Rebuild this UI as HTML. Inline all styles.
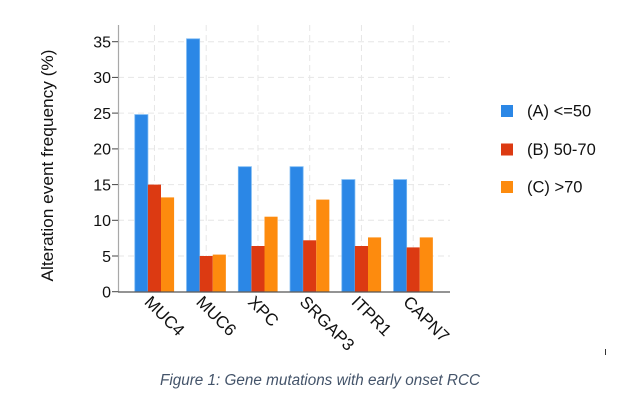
<!DOCTYPE html>
<html><head><meta charset="utf-8"><style>
html,body{margin:0;padding:0;background:#fff;}
svg{display:block;}
text{font-family:"Liberation Sans",Arial,sans-serif;fill:#111;}
</style></head><body>
<svg width="641" height="404" viewBox="0 0 641 404" xmlns="http://www.w3.org/2000/svg">
<rect width="641" height="404" fill="#fff"/>
<!-- grid -->
<g stroke="#e6e6e6" stroke-width="1" stroke-dasharray="6,4" fill="none">
<line x1="118" y1="256.0" x2="450" y2="256.0"/>
<line x1="118" y1="220.3" x2="450" y2="220.3"/>
<line x1="118" y1="184.6" x2="450" y2="184.6"/>
<line x1="118" y1="148.9" x2="450" y2="148.9"/>
<line x1="118" y1="113.1" x2="450" y2="113.1"/>
<line x1="118" y1="77.4" x2="450" y2="77.4"/>
<line x1="118" y1="41.7" x2="450" y2="41.7"/>
<line x1="154.45" y1="25" x2="154.45" y2="292"/>
<line x1="206.2" y1="25" x2="206.2" y2="292"/>
<line x1="257.95" y1="25" x2="257.95" y2="292"/>
<line x1="309.7" y1="25" x2="309.7" y2="292"/>
<line x1="361.45" y1="25" x2="361.45" y2="292"/>
<line x1="413.2" y1="25" x2="413.2" y2="292"/>
</g>
<!-- bars -->
<g>
<rect x="134.8" y="114.6" width="13.1" height="177.1" fill="#2b87e6" stroke="#74b6f2" stroke-width="0.8"/>
<rect x="147.9" y="184.6" width="13.1" height="107.1" fill="#dc3a12"/>
<rect x="161.0" y="197.4" width="13.1" height="94.3" fill="#fd8b0e"/>

<rect x="186.55" y="38.8" width="13.1" height="252.9" fill="#2b87e6" stroke="#74b6f2" stroke-width="0.8"/>
<rect x="199.65" y="256.0" width="13.1" height="35.7" fill="#dc3a12"/>
<rect x="212.75" y="254.6" width="13.1" height="37.1" fill="#fd8b0e"/>

<rect x="238.3" y="166.7" width="13.1" height="125.0" fill="#2b87e6" stroke="#74b6f2" stroke-width="0.8"/>
<rect x="251.4" y="246.0" width="13.1" height="45.7" fill="#dc3a12"/>
<rect x="264.5" y="216.7" width="13.1" height="75.0" fill="#fd8b0e"/>

<rect x="290.05" y="166.7" width="13.1" height="125.0" fill="#2b87e6" stroke="#74b6f2" stroke-width="0.8"/>
<rect x="303.15" y="240.3" width="13.1" height="51.4" fill="#dc3a12"/>
<rect x="316.25" y="199.6" width="13.1" height="92.1" fill="#fd8b0e"/>

<rect x="341.8" y="179.6" width="13.1" height="112.1" fill="#2b87e6" stroke="#74b6f2" stroke-width="0.8"/>
<rect x="354.9" y="246.0" width="13.1" height="45.7" fill="#dc3a12"/>
<rect x="368.0" y="237.4" width="13.1" height="54.3" fill="#fd8b0e"/>

<rect x="393.55" y="179.6" width="13.1" height="112.1" fill="#2b87e6" stroke="#74b6f2" stroke-width="0.8"/>
<rect x="406.65" y="247.4" width="13.1" height="44.3" fill="#dc3a12"/>
<rect x="419.75" y="237.4" width="13.1" height="54.3" fill="#fd8b0e"/>
</g>
<!-- axes -->
<line x1="118.5" y1="25" x2="118.5" y2="292" stroke="#a8a8a8" stroke-width="1.2"/>
<line x1="118" y1="292" x2="450" y2="292" stroke="#555" stroke-width="1.2"/>
<g stroke="#444" stroke-width="1">
<line x1="112" y1="291.7" x2="118" y2="291.7"/>
<line x1="112" y1="256.0" x2="118" y2="256.0"/>
<line x1="112" y1="220.3" x2="118" y2="220.3"/>
<line x1="112" y1="184.6" x2="118" y2="184.6"/>
<line x1="112" y1="148.9" x2="118" y2="148.9"/>
<line x1="112" y1="113.1" x2="118" y2="113.1"/>
<line x1="112" y1="77.4" x2="118" y2="77.4"/>
<line x1="112" y1="41.7" x2="118" y2="41.7"/>
</g>
<g font-size="16" text-anchor="end">
<text x="111" y="297.5">0</text>
<text x="111" y="261.8">5</text>
<text x="111" y="226.1">10</text>
<text x="111" y="190.4">15</text>
<text x="111" y="154.7">20</text>
<text x="111" y="118.9">25</text>
<text x="111" y="83.2">30</text>
<text x="111" y="47.5">35</text>
</g>
<text x="53" y="165.5" font-size="17" text-anchor="middle" transform="rotate(-90 53 165.5)" textLength="232" lengthAdjust="spacingAndGlyphs">Alteration event frequency (%)</text>
<!-- x labels -->
<g font-size="17">
<text x="143.5" y="303" transform="rotate(45 143.5 303)">MUC4</text>
<text x="195.2" y="303" transform="rotate(45 195.2 303)">MUC6</text>
<text x="247" y="303" transform="rotate(45 247 303)">XPC</text>
<text x="298.7" y="303" transform="rotate(45 298.7 303)">SRGAP3</text>
<text x="350.5" y="303" transform="rotate(45 350.5 303)">ITPR1</text>
<text x="402.2" y="303" transform="rotate(45 402.2 303)">CAPN7</text>
</g>
<!-- legend -->
<rect x="501" y="105" width="12" height="12" fill="#2b87e6"/>
<rect x="501" y="143.5" width="12" height="12" fill="#dc3a12"/>
<rect x="501" y="181" width="12" height="12" fill="#fd8b0e"/>
<g font-size="16.5">
<text x="527" y="116.5">(A) &lt;=50</text>
<text x="527" y="155">(B) 50-70</text>
<text x="527" y="192.5">(C) &gt;70</text>
</g>
<!-- small mark -->
<line x1="605.5" y1="349" x2="605.5" y2="355" stroke="#333" stroke-width="1"/>
<!-- caption -->
<text x="160" y="385" font-size="15.5" font-style="italic" style="fill:#44546a" textLength="320" lengthAdjust="spacingAndGlyphs">Figure 1: Gene mutations with early onset RCC</text>
</svg>
</body></html>
